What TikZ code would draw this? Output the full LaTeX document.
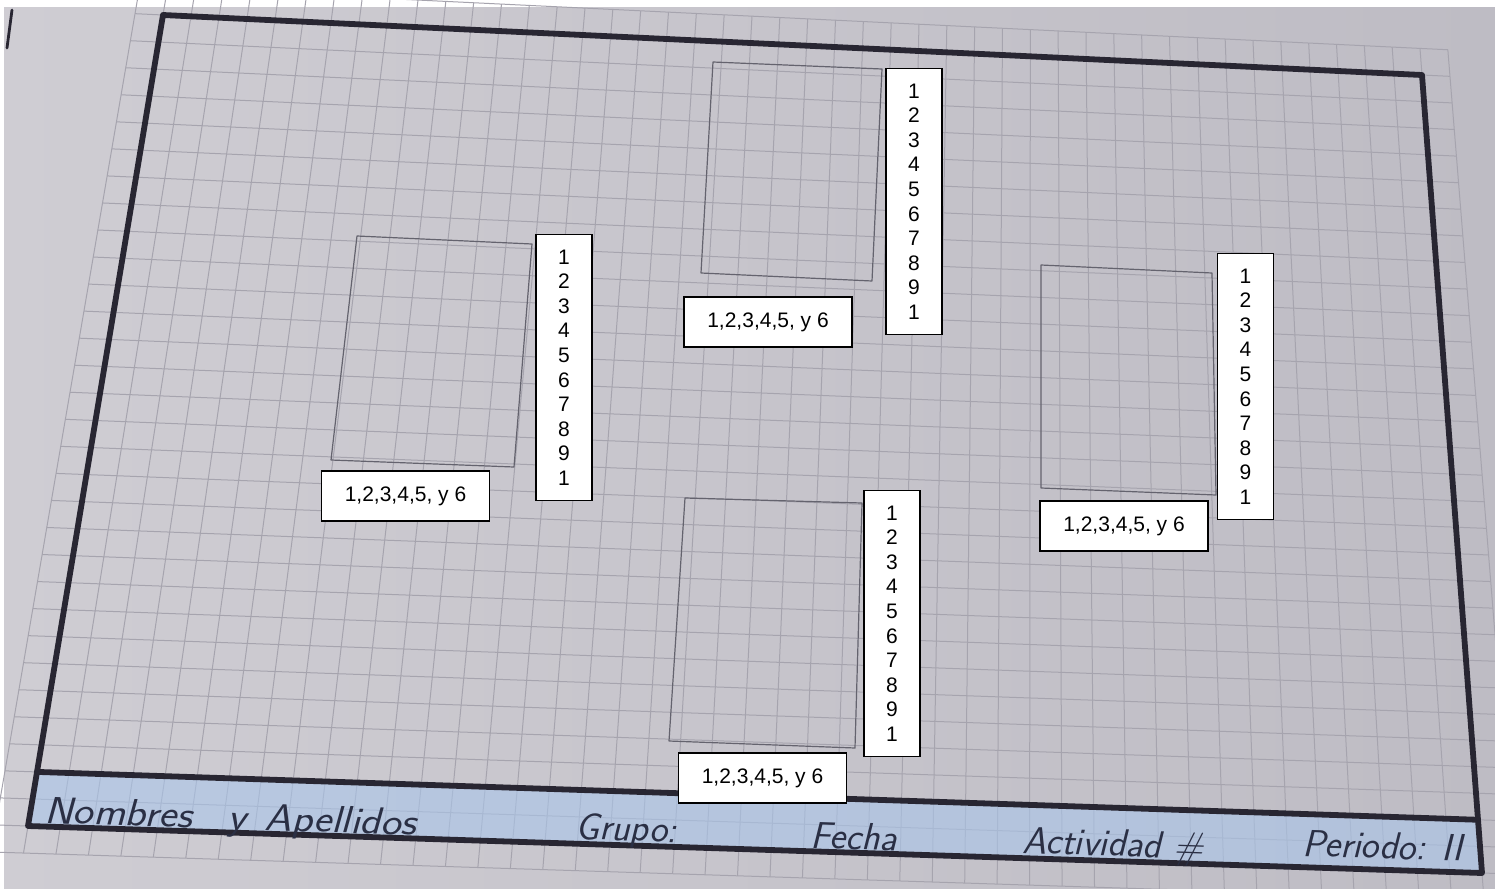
\documentclass[tikz,border=0pt]{standalone}
\usepackage{fontspec}
\newfontfamily\boxfont{Liberation Sans}
\usetikzlibrary{calc}
\definecolor{paperL}{RGB}{207,205,211}
\definecolor{paperR}{RGB}{190,188,196}
\definecolor{gridc}{RGB}{166,164,174}
\definecolor{framec}{RGB}{40,38,50}
\definecolor{pencil}{RGB}{100,99,110}
\definecolor{stripc}{RGB}{170,198,235}
\definecolor{inkc}{RGB}{42,47,68}
\begin{document}
\begin{tikzpicture}[x=0.5pt,y=-0.5pt,
  gridline/.style={draw=gridc, line width=0.5pt},
  framel/.style={draw=framec, line width=2.9pt, line cap=round, line join=round},
  pencilq/.style={draw=pencil, line width=0.6pt, line join=round},
  numbox/.style={draw=black, fill=white, line width=0.7pt, inner sep=0pt,
    minimum width=28pt, minimum height=133pt, align=center,
    font=\boxfont\fontsize{10.5}{12.3}\selectfont},
  lblbox/.style={draw=black, fill=white, line width=0.7pt, inner sep=0pt,
    minimum width=84pt, minimum height=25pt,
    font=\boxfont\fontsize{10.5}{12.3}\selectfont},
  hand/.style={text=inkc, font=\sffamily\slshape\fontsize{19}{19}\selectfont,
    anchor=base west, inner sep=0pt, rotate=-1.9}]
\useasboundingbox (0,0) rectangle (1495,889);
% paper
\shade[left color=paperL, right color=paperR] (0,0) rectangle (1495,889);
\fill[white] (0,0) rectangle (1495,7);
\fill[white] (0,0) rectangle (4,889);
% frame corners
\coordinate (TL) at (163,15);
\coordinate (TR) at (1422,75);
\coordinate (BR) at (1482,873);
\coordinate (BL) at (28,826);
% grid
\foreach \i in {-1,...,46}{
  \pgfmathsetmacro\uu{\i/45}
  \draw[gridline] ($ ($(TL)!\uu!(TR)$)!-0.0333!($(BL)!\uu!(BR)$) $)
    -- ($ ($(TL)!\uu!(TR)$)!1.0333!($(BL)!\uu!(BR)$) $);
}
\foreach \j in {-1,...,31}{
  \pgfmathsetmacro\vv{\j/30}
  \draw[gridline] ($ ($(TL)!\vv!(BL)$)!-0.0222!($(TR)!\vv!(BR)$) $)
    -- ($ ($(TL)!\vv!(BL)$)!1.0222!($(TR)!\vv!(BR)$) $);
}
% strip
\coordinate (S0) at ($(TL)!0.9333!(BL)$);
\coordinate (S1) at ($(TR)!0.9333!(BR)$);
\fill[stripc, fill opacity=0.6] (S0) -- (S1) -- (BR) -- (BL) -- cycle;
% stray mark
\draw[framec, line width=1.4pt, line cap=round] (12,10) -- (7,48);
% frame
\draw[framel] (TL) -- (TR) -- (BR) -- (BL) -- cycle;
\draw[framel] (S0) -- (S1);
% pencil rectangles
\draw[pencilq] (357,236) -- (532,244) -- (514,467) -- (331,460) -- cycle;
\draw[pencilq] (713,62) -- (882,69) -- (872,281) -- (701,273) -- cycle;
\draw[pencilq] (1041,265) -- (1212,273) -- (1216,495) -- (1041,488) -- cycle;
\draw[pencilq] (685,498) -- (862,503) -- (855,748) -- (669,741) -- cycle;
% label boxes
\node[lblbox] (h1) at (405.5,496) {1,2,3,4,5, y 6};
\node[lblbox] (h2) at (768,322) {1,2,3,4,5, y 6};
\node[lblbox] (h3) at (1124,526) {1,2,3,4,5, y 6};
\node[lblbox] (h4) at (762.5,778) {1,2,3,4,5, y 6};
\node[numbox] (v1) at (564,367.5) {1\\2\\3\\4\\5\\6\\7\\8\\9\\1};
\node[numbox] (v2) at (914,201.5) {1\\2\\3\\4\\5\\6\\7\\8\\9\\1};
\node[numbox] (v3) at (1245.5,386.5) {1\\2\\3\\4\\5\\6\\7\\8\\9\\1};
\node[numbox] (v4) at (892,623.5) {1\\2\\3\\4\\5\\6\\7\\8\\9\\1};
% handwriting
\node[hand] (nom) at (44,823) {\scalebox{1.13}[1]{Nombres\hspace{16pt}y\hspace{8pt}Apellidos}};
\node[hand] (gru) at (575,839) {Grupo:};
\node[hand] (fec) at (810,848) {Fecha};
\node[hand] (act) at (1022,853) {Actividad \#};
\node[hand] (per) at (1302,856) {Periodo: II};
\end{tikzpicture}
\end{document}
